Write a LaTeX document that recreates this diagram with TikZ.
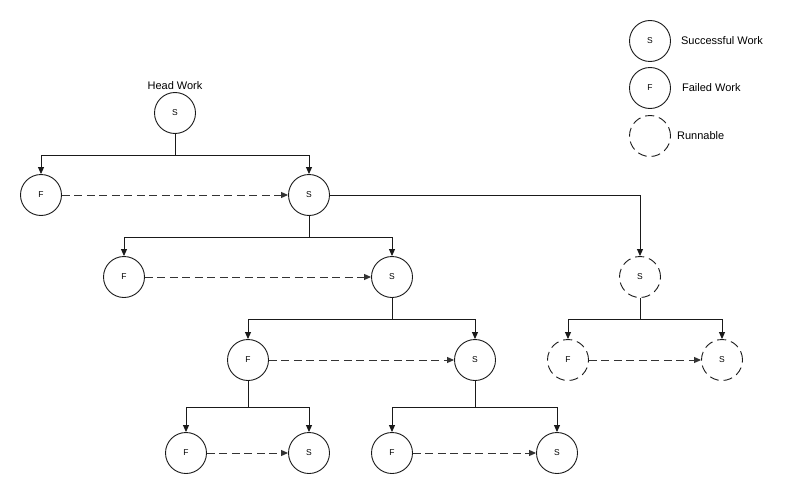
\documentclass[tikz,border=0pt]{standalone}
\usepackage{fontspec}
\setmainfont{Liberation Sans}
\usetikzlibrary{arrows.meta,positioning}
\definecolor{LineGrey}{HTML}{1A1A1A}
\definecolor{DashGrey}{HTML}{333333}
\newcommand\Size{41pt}
\newcommand\Wide{0.9pt}
\tikzstyle{work}=[circle,draw=LineGrey,line width=\Wide,minimum size=\Size,
                     inner sep=0pt,font=\fontsize{8.5}{9}\selectfont]
\tikzstyle{runnable}=[work,dash pattern=on 9pt off 5pt]
\tikzstyle{link}=[draw=LineGrey,line width=\Wide]
\tikzstyle{spawn}=[link,-{Triangle[length=7pt,width=6pt]}]
\tikzstyle{retry}=[spawn,draw=DashGrey,line width=1pt,dash pattern=on 8pt off 4.5pt]
\tikzstyle{caption}=[inner sep=0pt,font=\fontsize{11}{13}\selectfont]

\begin{document}
\begin{tikzpicture}[x=1pt,y=-1pt]
      \useasboundingbox (0,0) rectangle (800,495);
      \node[work] (head) at (175,113) {S};
      \node[caption,above=2pt of head] (headlabel) {Head Work};
      \node[work] (f1) at (41,195) {F};
      \node[work] (s1) at (309,195) {S};
      \node[work] (f2) at (124,277) {F};
      \node[work] (s2) at (392,277) {S};
      \node[work] (f3) at (248,360) {F};
      \node[work] (s3) at (475,360) {S};
      \node[work] (f4) at (186,453) {F};
      \node[work] (s4) at (309,453) {S};
      \node[work] (f5) at (392,453) {F};
      \node[work] (s5) at (557,453) {S};
      \node[runnable] (r1) at (640,277) {S};
      \node[runnable] (r2) at (568,360) {F};
      \node[runnable] (r3) at (722,360) {S};
      \coordinate (j1) at (175,155);
      \coordinate (j2) at (309,237);
      \coordinate (j3) at (392,319);
      \coordinate (j4) at (248,407);
      \coordinate (j5) at (475,407);
      \coordinate (j6) at (640,319);
      \draw[link] (head) -- (j1);
      \draw[spawn] (j1) -| (f1);
      \draw[spawn] (j1) -| (s1);
      \draw[link] (s1) -- (j2);
      \draw[spawn] (j2) -| (f2);
      \draw[spawn] (j2) -| (s2);
      \draw[link] (s2) -- (j3);
      \draw[spawn] (j3) -| (f3);
      \draw[spawn] (j3) -| (s3);
      \draw[link] (f3) -- (j4);
      \draw[spawn] (j4) -| (f4);
      \draw[spawn] (j4) -| (s4);
      \draw[link] (s3) -- (j5);
      \draw[spawn] (j5) -| (f5);
      \draw[spawn] (j5) -| (s5);
      \draw[spawn] (s1) -| (r1);
      \draw[link] (r1) -- (j6);
      \draw[spawn] (j6) -| (r2);
      \draw[spawn] (j6) -| (r3);
      \draw[retry] (f1) -- (s1);
      \draw[retry] (f2) -- (s2);
      \draw[retry] (f3) -- (s3);
      \draw[retry] (f4) -- (s4);
      \draw[retry] (f5) -- (s5);
      \draw[retry] (r2) -- (r3);
      \node[work] (keys) at (650,41) {S};
      \node[work] (keyf) at (650,88) {F};
      \node[runnable] (keyr) at (650,136) {};
      \node[caption,right=10pt of keys] (keystext) {Successful Work};
      \node[caption,right=11pt of keyf] (keyftext) {Failed Work};
      \node[caption,right=6pt of keyr] (keyrtext) {Runnable};
   \end{tikzpicture}
\end{document}
